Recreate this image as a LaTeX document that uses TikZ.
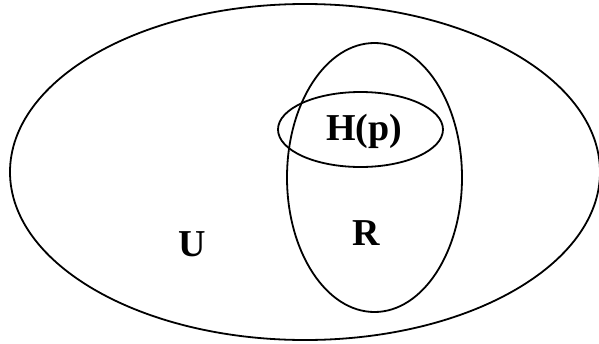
\documentclass[tikz,border=0pt]{standalone}
\usepackage{fontspec}
\setmainfont{Liberation Serif}
\usetikzlibrary{shapes.geometric}

\begin{document}
\begin{tikzpicture}[
  x=1pt,y=-1pt,
  set/.style={ellipse,draw,line width=1.8pt,inner sep=0pt},
  setname/.style={anchor=base,inner sep=0pt,font=\fontsize{38}{40}\selectfont\bfseries}
]
  \useasboundingbox (0,0) rectangle (599,343);
  % the three sets
  \node[set,minimum width=590pt,minimum height=336pt] (univ) at (305,172) {};
  \node[set,minimum width=175pt,minimum height=269pt] (reach) at (374.5,177.5) {};
  \node[set,minimum width=165pt,minimum height=75pt] (hull) at (360.5,129.5) {};
  % their names
  \node[setname] (hlabel) at (364,140) {H(p)};
  \node[setname] (rlabel) at (366,245) {R};
  \node[setname] (ulabel) at (192.5,256) {U};
\end{tikzpicture}
\end{document}
